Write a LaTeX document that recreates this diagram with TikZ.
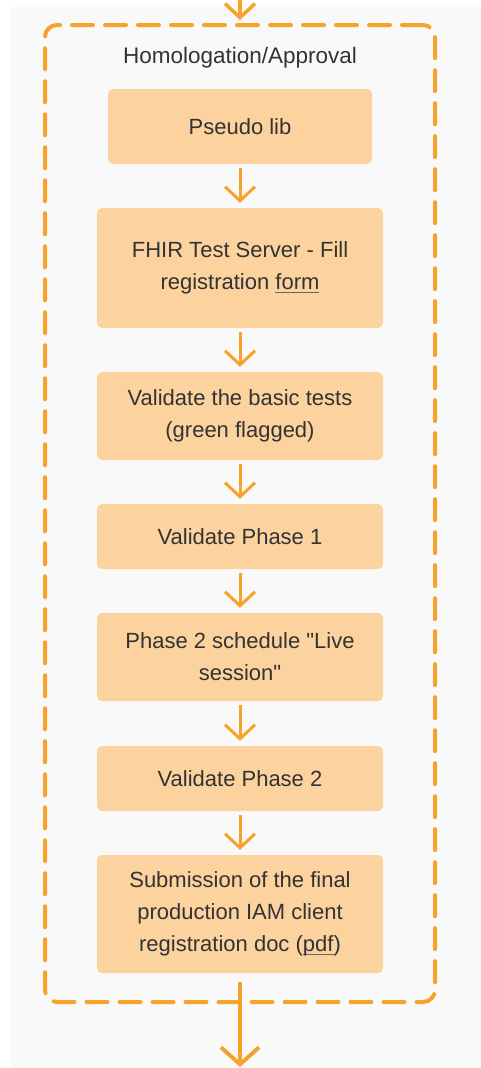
\documentclass[tikz,border=0pt]{standalone}
\usepackage{fontspec}
\setmainfont{Liberation Sans}[Ligatures=TeXOff]
\usetikzlibrary{arrows.meta}
\definecolor{flow}{HTML}{F8A22C}
\definecolor{stepfill}{HTML}{FCD39E}
\definecolor{canvas}{HTML}{F9F9F9}
\definecolor{ink}{HTML}{333333}
% underline that sits just under the baseline, crossing descenders
\newcommand\linkul[1]{\setbox0\hbox{#1}\rlap{\color{ink!75}\rule[-3.5pt]{\wd0}{1pt}}#1}
\begin{document}
\begin{tikzpicture}[x=1pt,y=-1pt,
  stepbox/.style={fill=stepfill, rounded corners=5pt, minimum width=286pt,
    text=ink, align=center, font=\fontsize{22}{32}\selectfont, inner sep=0pt},
  flowarrow/.style={draw=flow, line width=3pt,
    -{Straight Barb[length=14pt,width=30pt]}, shorten <=4pt, shorten >=5pt},
  ]
\useasboundingbox (0,0) rectangle (481,1068);
\clip (0,0) rectangle (481,1068);
\fill[canvas] (10,7) rectangle (481,1068);

% dashed group frame and its title
\node[draw=flow, line width=4pt, dash pattern=on 21pt off 12pt, line cap=round,
      rounded corners=12pt, minimum width=390pt, minimum height=977pt,
      inner sep=0pt, outer sep=0pt] (frame) at (240,513.5) {};
\node[font=\fontsize{22.5}{26}\selectfont, text=ink, anchor=base] (title) at (240,63) {Homologation/Approval};

% steps
\node[stepbox, minimum width=264pt, minimum height=75pt] (p1) at (240,126.5) {Pseudo lib};
\node[stepbox, minimum height=120pt] (p2) at (240,268) {FHIR Test Server - Fill\\registration \linkul{form}};
\node[stepbox, minimum height=88pt] (p3) at (240,416) {Validate the basic tests\\(green flagged)};
\node[stepbox, minimum height=65pt] (p4) at (240,536.5) {Validate Phase 1};
\node[stepbox, minimum height=88pt] (p5) at (240,657) {Phase 2 schedule "Live\\session"};
\node[stepbox, minimum height=65pt] (p6) at (240,778.5) {Validate Phase 2};
\node[stepbox, minimum height=118pt] (p7) at (240,914) {Submission of the final\\production IAM client\\registration doc (\linkul{pdf})};

% connectors
\coordinate (entry) at (240,-30);
\coordinate (exit) at (240,1068);
\draw[flowarrow, line width=3.5pt, shorten <=0pt, shorten >=5pt] (entry) -- (frame.north);
\draw[flowarrow] (p1) -- (p2);
\draw[flowarrow] (p2) -- (p3);
\draw[flowarrow] (p3) -- (p4);
\draw[flowarrow] (p4) -- (p5);
\draw[flowarrow] (p5) -- (p6);
\draw[flowarrow] (p6) -- (p7);
\draw[flowarrow, line width=4pt, -{Straight Barb[length=17pt,width=38pt]},
      shorten <=9pt, shorten >=1pt] (p7) -- (exit);
\end{tikzpicture}
\end{document}
